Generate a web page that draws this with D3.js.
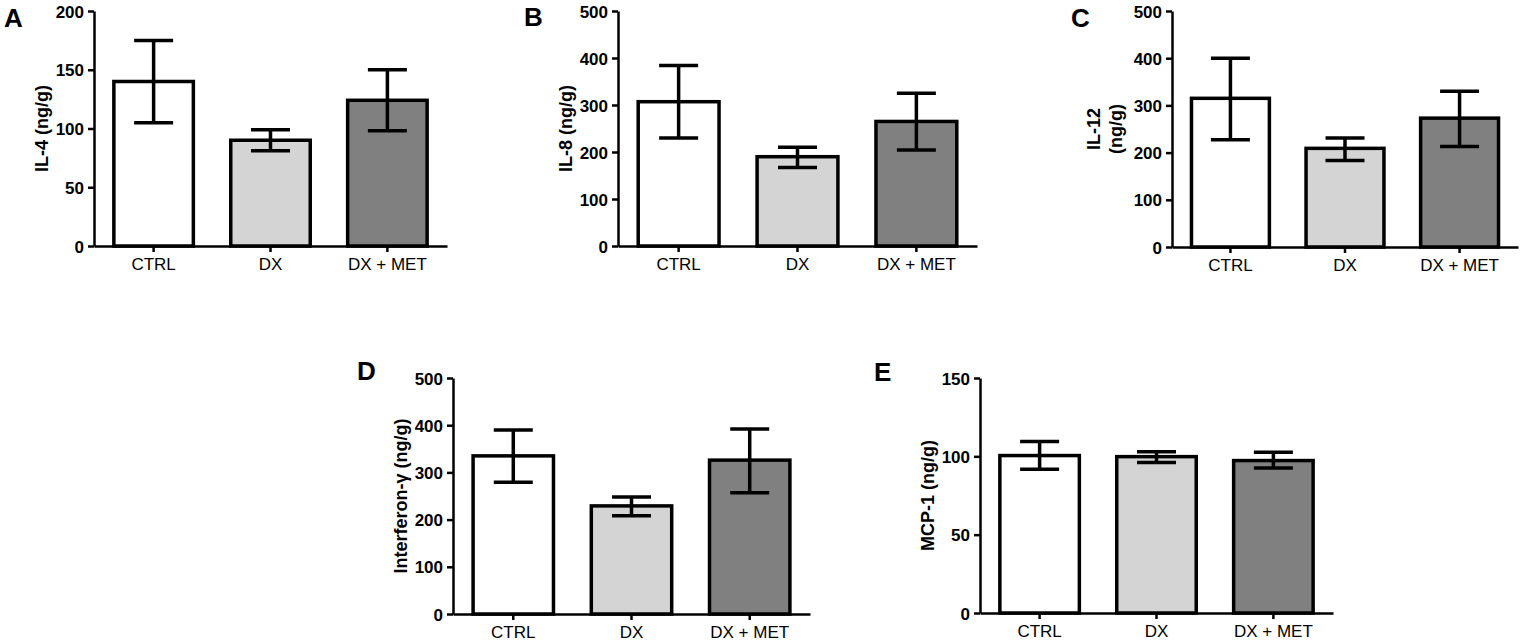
<!DOCTYPE html>
<html>
<head>
<meta charset="utf-8">
<script src="https://cdn.jsdelivr.net/npm/d3@7"></script>
<style>
  body { margin: 0; background: #fff; }
  svg { display: block; }
  text { font-family: Arial, "Liberation Sans", sans-serif; fill: #000; }
</style>
</head>
<body>
<svg id="fig" width="1533" height="643" viewBox="0 0 1533 643"></svg>
<script>
// groups on the x axis
const groups = ["CTRL", "DX", "DX + MET"];
const barColors = ["#ffffff", "#d4d4d4", "#808080"];

// IL-4
const il4Mean = [140, 90, 124];
const il4Hi = [175, 99, 150];
const il4Lo = [105, 81, 98];
const il4Ticks = [0, 50, 100, 150, 200];

// IL-8
const il8Mean = [307, 190, 265];
const il8Hi = [384, 210, 325];
const il8Lo = [230, 167, 204];

// IL-12
const il12Mean = [315, 209, 273];
const il12Hi = [400, 231, 330];
const il12Lo = [227, 183, 213];

// Interferon-gamma
const ifnMean = [335, 229, 326];
const ifnHi = [390, 248, 392];
const ifnLo = [279, 208, 257];

// MCP-1
const mcpMean = [100.5, 99.8, 97.3];
const mcpHi = [109.4, 103, 102.6];
const mcpLo = [91.8, 96, 92.6];
const mcpTicks = [0, 50, 100, 150];

const ticks500 = [0, 100, 200, 300, 400, 500];

// panel layout (axis origin / extents in px)
const panels = [
    {letter: "A", lx: 4, ly: 27, x0: 94, x1: 447, top: 11, bottom: 246, max: 200, ticks: il4Ticks,
     title: ["IL-4 (ng/g)"], mean: il4Mean, hi: il4Hi, lo: il4Lo},
    {letter: "B", lx: 524, ly: 26, x0: 618, x1: 977, top: 11, bottom: 246, max: 500, ticks: ticks500,
     title: ["IL-8 (ng/g)"], mean: il8Mean, hi: il8Hi, lo: il8Lo},
    {letter: "C", lx: 1071, ly: 27, x0: 1172, x1: 1518, top: 11, bottom: 247, max: 500, ticks: ticks500,
     title: ["IL-12", "(ng/g)"], mean: il12Mean, hi: il12Hi, lo: il12Lo},
    {letter: "D", lx: 357, ly: 380, x0: 453, x1: 810, top: 378, bottom: 614, max: 500, ticks: ticks500,
     title: ["Interferon-\u03b3 (ng/g)"], mean: ifnMean, hi: ifnHi, lo: ifnLo},
    {letter: "E", lx: 874, ly: 381, x0: 980, x1: 1333, top: 378, bottom: 613, max: 150, ticks: mcpTicks,
     title: ["MCP-1 (ng/g)"], mean: mcpMean, hi: mcpHi, lo: mcpLo}
];

const svg = d3.select("#fig");

function drawPanel(p) {
    const g = svg.append("g");

    let x = d3.scaleBand()
        .domain(groups)
        .range([p.x0, p.x1])
        .paddingInner(0.32)
        .paddingOuter(0.17);

    let y = d3.scaleLinear()
        .domain([0, p.max])
        .range([p.bottom, p.top]);

    let rows = groups.map(function(name, i) {
        return {name: name, mean: p.mean[i], hi: p.hi[i], lo: p.lo[i], color: barColors[i]};
    });

    // bars
    g.selectAll("rect.bar")
        .data(rows)
        .join("rect")
        .attr("class", "bar")
        .attr("x", d => x(d.name))
        .attr("y", d => y(d.mean))
        .attr("width", x.bandwidth())
        .attr("height", d => y(0) - y(d.mean))
        .style("fill", d => d.color)
        .style("stroke", "#000")
        .style("stroke-width", 3.5);

    // error bars
    let cap = 19.5;
    let err = g.selectAll("g.err")
        .data(rows)
        .join("g")
        .attr("class", "err")
        .attr("transform", d => "translate(" + (x(d.name) + x.bandwidth() / 2) + ",0)")
        .style("stroke", "#000")
        .style("stroke-width", 3.5);
    err.append("line")
        .attr("y1", d => y(d.hi))
        .attr("y2", d => y(d.lo));
    err.append("line")
        .attr("x1", -cap).attr("x2", cap)
        .attr("y1", d => y(d.hi)).attr("y2", d => y(d.hi));
    err.append("line")
        .attr("x1", -cap).attr("x2", cap)
        .attr("y1", d => y(d.lo)).attr("y2", d => y(d.lo));

    // y axis
    let yAxis = g.append("g")
        .attr("transform", "translate(" + p.x0 + ",0)")
        .call(d3.axisLeft(y).tickValues(p.ticks).tickSize(6).tickSizeOuter(0).tickPadding(4));
    yAxis.selectAll("text")
        .style("font-size", "17px")
        .style("font-weight", "bold")
        .attr("dy", "0.36em");

    // x axis
    let xAxis = g.append("g")
        .attr("transform", "translate(0," + p.bottom + ")")
        .call(d3.axisBottom(x).tickSize(6).tickSizeOuter(0).tickPadding(6));
    xAxis.selectAll("text")
        .style("font-size", "17px")
        .attr("dy", "0.71em");

    g.selectAll(".domain, .tick line")
        .style("stroke", "#000")
        .style("stroke-width", 2.5);

    // y axis title
    let cy = (p.top + p.bottom) / 2;
    let n = p.title.length;
    p.title.forEach(function(line, i) {
        let bx = p.x0 - 46 - (n - 1 - i) * 22 - (n > 1 ? 4 : 0);
        g.append("text")
            .attr("transform", "translate(" + bx + "," + cy + ") rotate(-90)")
            .attr("text-anchor", "middle")
            .style("font-size", "18px")
            .style("font-weight", "bold")
            .text(line);
    });

    // panel letter
    g.append("text")
        .attr("x", p.lx)
        .attr("y", p.ly)
        .style("font-size", "26px")
        .style("font-weight", "bold")
        .text(p.letter);
}

panels.forEach(drawPanel);
</script>
</body>
</html>
